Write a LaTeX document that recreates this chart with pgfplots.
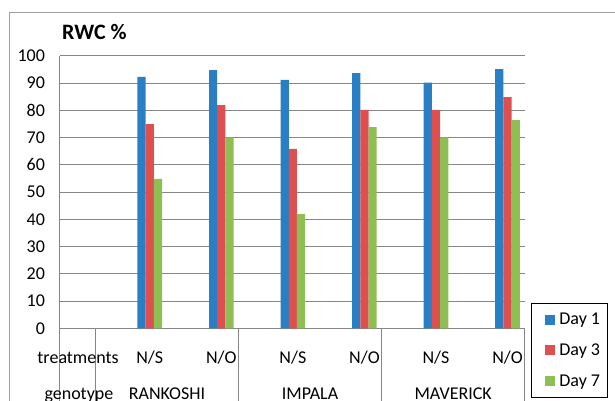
\documentclass[border=0pt]{standalone}
\usepackage{pgfplots}
\pgfplotsset{compat=1.18}
\usepackage{fontspec}
\setmainfont{Carlito}
\definecolor{cblue}{HTML}{2A7FC4}
\definecolor{cred}{HTML}{DE5050}
\definecolor{cgreen}{HTML}{8DBF52}
\definecolor{cgrid}{HTML}{868686}
\tikzset{lab/.style={anchor=base, inner sep=0pt, font=\fontsize{18}{20}\selectfont},
  divl/.style={cgrid, line width=0.8pt}}
\begin{document}
\begin{tikzpicture}[x=1pt,y=1pt]
\useasboundingbox (0,0) rectangle (615,401);
\draw[cgrid!80, line width=0.8pt] (9,-5) -- (9,389) -- (625,389);
\node[anchor=base west, inner sep=0pt, font=\bfseries\fontsize{22}{24}\selectfont] at (62,361) {RWC \%};
\begin{axis}[
  at={(59.6pt,72.7pt)}, anchor=south west,
  scale only axis, width=465.1pt, height=272.6pt,
  xmin=-0.5, xmax=6, ymin=0, ymax=100,
  ytick={0,10,...,100},
  xtick=\empty,
  ymajorgrids, grid style={cgrid, line width=0.8pt},
  axis x line*=bottom, axis y line*=left,
  axis line style={cgrid, line width=0.8pt, -},
  major tick length=0pt,
  tick label style={font=\fontsize{18}{20}\selectfont},
  /pgf/number format/assume math mode=true,
  yticklabel style={anchor=east, inner sep=0pt, xshift=-14.5pt},
  ybar=0pt, bar width=8.2pt,
  clip=false,
  legend style={at={(1.0135,-0.2557)}, anchor=south west, draw=black, line width=0.8pt,
    font=\fontsize{18}{20}\selectfont, inner xsep=5pt, inner ysep=7pt, row sep=11.5pt,
    column sep=2pt, nodes={inner xsep=2pt, inner ysep=3pt}},
  legend cell align=left,
  legend image code/.code={\path (0pt,0pt); \fill[#1, draw=none] (9pt,-5pt) rectangle (19pt,5pt);},
]
\addplot[fill=cblue, draw=none] coordinates {(0.76,92.2) (1.76,94.7) (2.76,91.1) (3.76,93.6) (4.76,90.1) (5.76,95.1)};
\addplot[fill=cred, draw=none] coordinates {(0.76,74.9) (1.76,81.9) (2.76,65.8) (3.76,80.1) (4.76,80.1) (5.76,84.8)};
\addplot[fill=cgreen, draw=none] coordinates {(0.76,54.8) (1.76,70.0) (2.76,41.9) (3.76,73.8) (4.76,70.0) (5.76,76.4)};
\legend{Day 1, Day 3, Day 7}
\draw[divl] (axis cs:-0.5,0) -- ([yshift=-90pt]axis cs:-0.5,0);
\draw[divl] (axis cs:0,0) -- ([yshift=-90pt]axis cs:0,0);
\draw[divl] (axis cs:2,0) -- ([yshift=-90pt]axis cs:2,0);
\draw[divl] (axis cs:4,0) -- ([yshift=-90pt]axis cs:4,0);
\draw[divl] (axis cs:6,0) -- ([yshift=-90pt]axis cs:6,0);
\node[lab] at ([yshift=-34.7pt]axis cs:0.76,0) {N/S};
\node[lab] at ([yshift=-34.7pt]axis cs:1.76,0) {N/O};
\node[lab] at ([yshift=-34.7pt]axis cs:2.76,0) {N/S};
\node[lab] at ([yshift=-34.7pt]axis cs:3.76,0) {N/O};
\node[lab] at ([yshift=-34.7pt]axis cs:4.76,0) {N/S};
\node[lab] at ([yshift=-34.7pt]axis cs:5.76,0) {N/O};
\node[lab] at ([yshift=-34.7pt]axis cs:-0.242,0) {treatments};
\node[lab] at ([yshift=-70.7pt]axis cs:-0.23,0) {genotype};
\node[lab] at ([yshift=-70.7pt]axis cs:1,0) {RANKOSHI};
\node[lab] at ([yshift=-70.7pt]axis cs:3,0) {IMPALA};
\node[lab] at ([yshift=-70.7pt]axis cs:5,0) {MAVERICK};
\end{axis}
\end{tikzpicture}
\end{document}
